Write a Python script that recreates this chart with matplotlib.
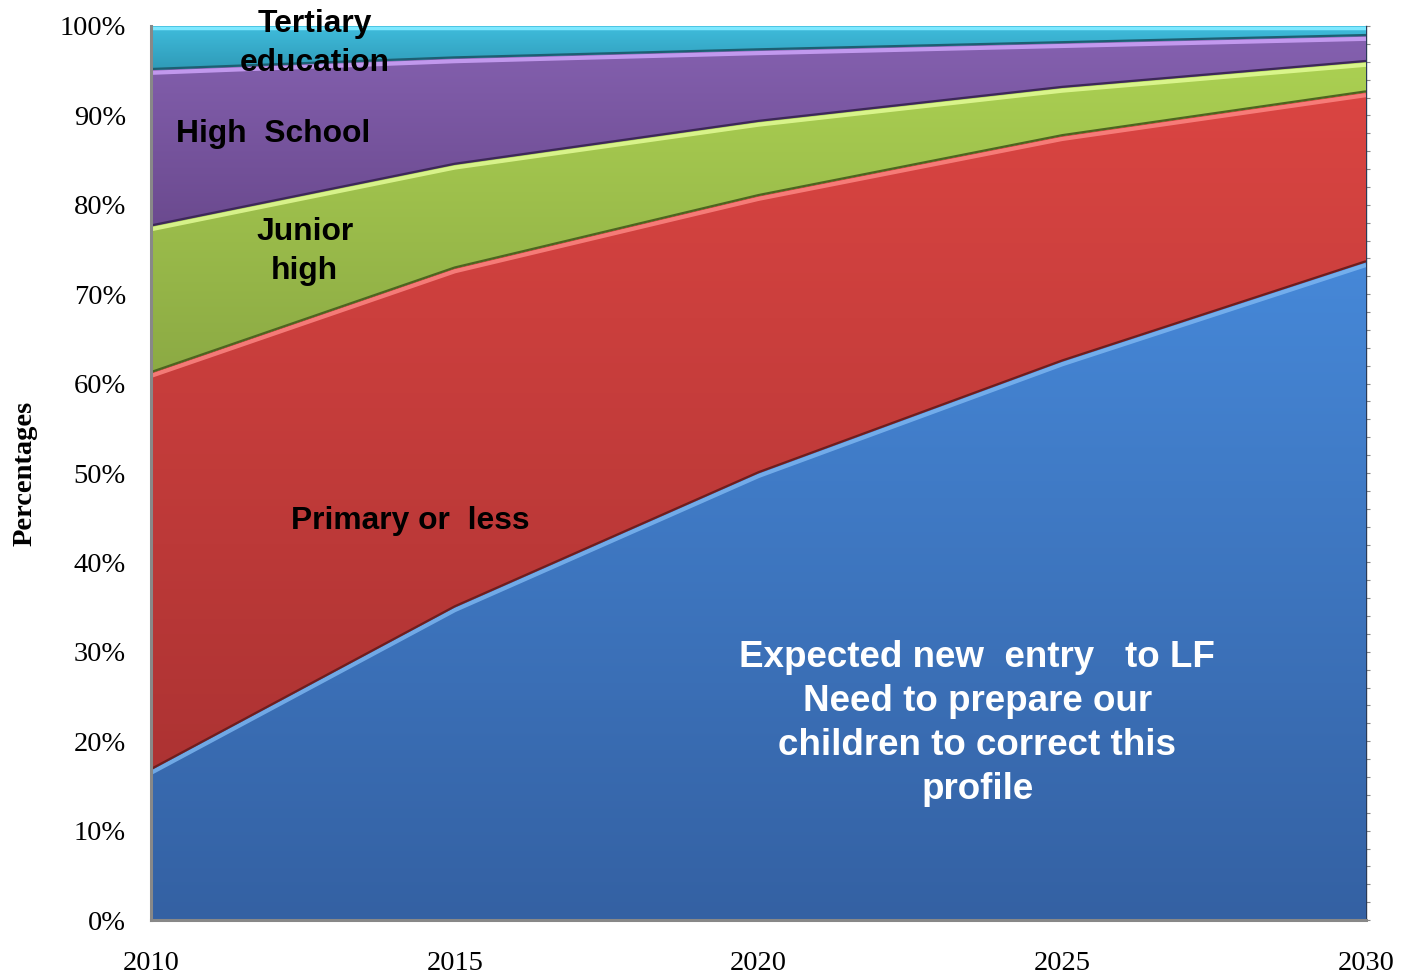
import numpy as np
import matplotlib
matplotlib.use("Agg")
import matplotlib.pyplot as plt
import matplotlib.transforms as mtransforms
from matplotlib.colors import LinearSegmentedColormap

# ---- data (percent shares of new labour-force entrants) ----
years = [2010, 2015, 2020, 2025, 2030]
tertiary   = [4.9, 3.6, 2.7, 1.9, 1.1]
high_school = [17.5, 11.9, 8.0, 5.0, 2.9]
junior_high = [16.4, 11.6, 8.3, 5.4, 3.4]
primary    = [44.4, 37.9, 31.0, 25.2, 19.0]
expected   = [16.8, 35.0, 50.0, 62.5, 73.6]

series = [expected, primary, junior_high, high_school, tertiary]
# (light top colour, dark bottom colour, highlight, shadow)
styles = [
    ("#4688d8", "#3461a3", "#7fb8f2", "#1f3f70"),
    ("#da4542", "#ad3333", "#ff8a86", "#6e1d1d"),
    ("#abd052", "#8caa44", "#e6ff9a", "#4d6420"),
    ("#8561b0", "#6b4a8f", "#d2a8ff", "#3d2858"),
    ("#3fbcdc", "#2f9ab7", "#7ee8ff", "#1c5f72"),
]

fig = plt.figure(figsize=(14.01, 9.77), dpi=100)
ax = fig.add_axes([0.1078, 0.0583, 0.8672, 0.9151])

x = np.array(years, dtype=float)
base = np.zeros(len(x))
tops = []
for vals, (c_top, c_bot, c_hi, c_sh) in zip(series, styles):
    top = base + np.array(vals, dtype=float)
    poly = ax.fill_between(x, base, top, facecolor=c_top, edgecolor="none", zorder=1)
    cmap = LinearSegmentedColormap.from_list("g", [c_bot, c_top])
    grad = np.linspace(0, 1, 256).reshape(-1, 1)
    im = ax.imshow(grad, cmap=cmap, origin="lower", aspect="auto",
                   extent=[x[0], x[-1], base.min(), top.max()], zorder=2,
                   interpolation="bilinear")
    im.set_clip_path(poly.get_paths()[0], transform=ax.transData)
    tops.append((top.copy(), c_hi, c_sh))
    base = top

# bevel lines along boundaries
for top, c_hi, c_sh in tops[:-1]:
    hi_tr = mtransforms.offset_copy(ax.transData, fig=fig, x=0, y=-3.0, units="dots")
    ax.plot(x, top, color=c_hi, lw=3.0, alpha=0.8, transform=hi_tr, zorder=3,
            solid_capstyle="butt")
for i, (top, c_hi, c_sh) in enumerate(tops[:-1]):
    sh_tr = mtransforms.offset_copy(ax.transData, fig=fig, x=0, y=0.8, units="dots")
    ax.plot(x, top, color=tops[i + 1][2], lw=1.6, transform=sh_tr, zorder=4,
            solid_capstyle="butt")
hi_tr = mtransforms.offset_copy(ax.transData, fig=fig, x=0, y=-2.5, units="dots")
ax.plot(x, [100] * len(x), color=styles[-1][2], lw=2.5, transform=hi_tr, zorder=3)

ax.set_xlim(2010, 2030)
ax.set_ylim(0, 100)
ax.set_xticks([2010, 2015, 2020, 2025, 2030])
ax.set_yticks(range(0, 101, 10))
ax.set_yticklabels([f"{v}%" for v in range(0, 101, 10)])
ax.tick_params(axis="both", length=0, labelsize=20.5, colors="black")
ax.tick_params(axis="y", pad=18)
ax.tick_params(axis="x", pad=22)
for lab in ax.get_xticklabels() + ax.get_yticklabels():
    lab.set_fontfamily("Liberation Serif")

for side in ["top", "right"]:
    ax.spines[side].set_visible(False)
for side in ["left", "bottom"]:
    ax.spines[side].set_color("#888888")
    ax.spines[side].set_linewidth(2.2)
    ax.spines[side].set_zorder(6)

# small depth ticks on the right edge
sec = ax.secondary_yaxis("right")
sec.set_yticks(np.arange(0, 101, 2))
sec.tick_params(length=3, width=0.8, color="#888888", labelright=False)
sec.spines["right"].set_color("#2a3a55")
sec.spines["right"].set_linewidth(1.0)

ax.set_ylabel("Percentages", fontsize=20.5, fontweight="bold",
              fontfamily="Liberation Serif", labelpad=16)

sans = "Liberation Sans"
kw = dict(fontfamily=sans, fontweight="bold", fontsize=22.9, ha="center",
          va="center", zorder=10, linespacing=1.37)
ax.text(2012.70, 98.05, "Tertiary\neducation", color="black", **kw)
ax.text(2012.01, 87.9, "High  School", color="black", **kw)
ax.text(2012.53, 74.8, "Junior\nhigh", color="black", **kw)
ax.text(2014.26, 44.6, "Primary or  less", color="black", **kw)
kw2 = dict(kw)
kw2["fontsize"] = 26.5
kw2["linespacing"] = 1.33
ax.text(2023.60, 21.95,
        "Expected new  entry   to LF\nNeed to prepare our\nchildren to correct this\nprofile",
        color="white", **kw2)

fig.savefig("out.png", dpi=100)
